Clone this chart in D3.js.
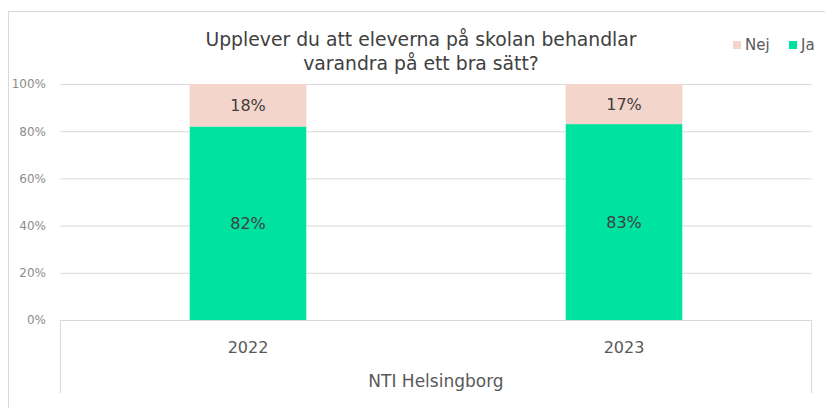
<!DOCTYPE html>
<html>
<head>
<meta charset="utf-8">
<script src="https://cdn.jsdelivr.net/npm/d3@7"></script>
<style>
  body { margin: 0; background: #fff; }
  text { font-family: "DejaVu Sans", sans-serif; }
</style>
</head>
<body>
<div id="chart"></div>
<script>
const years = ['2022', '2023'];
const ja = [0.82, 0.83];
const nej = [0.18, 0.17];
const yTicks = [0, 0.2, 0.4, 0.6, 0.8, 1];
const groupLabel = 'NTI Helsingborg';
const titleLines = ['Upplever du att eleverna på skolan behandlar', 'varandra på ett bra sätt?'];

const W = 825, H = 408;
const margin = {top: 84, right: 13, bottom: 88, left: 60};
const width = W - margin.left - margin.right,
    height = H - margin.top - margin.bottom;

const svg = d3.select('#chart')
    .append('svg')
    .attr('width', W)
    .attr('height', H);

// outer chart border
svg.append('rect')
    .attr('x', 8.5).attr('y', 11.5)
    .attr('width', W).attr('height', H)
    .attr('fill', 'none')
    .attr('stroke', '#d9d9d9');

const g = svg.append('g')
    .attr('transform', `translate(${margin.left},${margin.top})`);

const x = d3.scaleBand()
    .domain(years)
    .range([0, width])
    .paddingInner(0.69)
    .paddingOuter(0.345);

const y = d3.scaleLinear()
    .domain([0, 1])
    .range([height, 0]);

// gridlines + y labels
const yAxis = g.append('g')
    .call(d3.axisLeft(y).tickValues(yTicks).tickFormat(d3.format('.0%')).tickSize(-width).tickPadding(14));
yAxis.select('.domain').remove();
yAxis.selectAll('.tick line').attr('stroke', '#d9d9d9');
yAxis.selectAll('.tick text')
    .attr('fill', '#8c8c8c')
    .style('font-size', '12px');

// bars
const rows = years.map((yr, i) => ({year: yr, ja: ja[i], nej: nej[i]}));

g.selectAll('.ja').data(rows).join('rect')
    .attr('x', d => x(d.year))
    .attr('y', d => y(d.ja))
    .attr('width', x.bandwidth())
    .attr('height', d => y(0) - y(d.ja))
    .attr('fill', '#00e2a0');

g.selectAll('.nej').data(rows).join('rect')
    .attr('x', d => x(d.year))
    .attr('y', d => y(d.ja + d.nej))
    .attr('width', x.bandwidth())
    .attr('height', d => y(d.ja) - y(d.ja + d.nej))
    .attr('fill', '#f4d5cb');

// data labels
const pct = d3.format('.0%');
g.selectAll('.lja').data(rows).join('text')
    .attr('x', d => x(d.year) + x.bandwidth() / 2)
    .attr('y', d => y(d.ja / 2))
    .attr('dy', '0.35em')
    .attr('text-anchor', 'middle')
    .attr('fill', '#404040')
    .style('font-size', '16px')
    .text(d => pct(d.ja));

g.selectAll('.lnej').data(rows).join('text')
    .attr('x', d => x(d.year) + x.bandwidth() / 2)
    .attr('y', d => y(d.ja + d.nej / 2))
    .attr('dy', '0.35em')
    .attr('text-anchor', 'middle')
    .attr('fill', '#404040')
    .style('font-size', '16px')
    .text(d => pct(d.nej));

// category axis box (multi-level)
const axisBottom = height + 73;
g.append('path')
    .attr('d', `M0.5,${axisBottom} V${height + 0.5} H${width - 0.5} V${axisBottom}`)
    .attr('fill', 'none')
    .attr('stroke', '#d9d9d9');

g.selectAll('.cat').data(years).join('text')
    .attr('x', d => x(d) + x.bandwidth() / 2)
    .attr('y', height + 33)
    .attr('text-anchor', 'middle')
    .attr('fill', '#595959')
    .style('font-size', '16px')
    .text(d => d);

g.append('text')
    .attr('x', width / 2)
    .attr('y', height + 67)
    .attr('text-anchor', 'middle')
    .attr('fill', '#595959')
    .style('font-size', '17px')
    .text(groupLabel);

// title
svg.selectAll('.title').data(titleLines).join('text')
    .attr('x', 421)
    .attr('y', (d, i) => 46 + i * 24)
    .attr('text-anchor', 'middle')
    .attr('fill', '#404040')
    .style('font-size', '18.8px')
    .text(d => d);

// legend
const legend = [{name: 'Nej', color: '#f4d5cb', x: 733}, {name: 'Ja', color: '#00e2a0', x: 789}];
const lg = svg.selectAll('.legend').data(legend).join('g')
    .attr('transform', d => `translate(${d.x},41)`);
lg.append('rect').attr('width', 8).attr('height', 8).attr('fill', d => d.color);
lg.append('text')
    .attr('x', 12).attr('y', 9)
    .attr('fill', '#595959')
    .style('font-size', '15px')
    .text(d => d.name);
</script>
</body>
</html>
